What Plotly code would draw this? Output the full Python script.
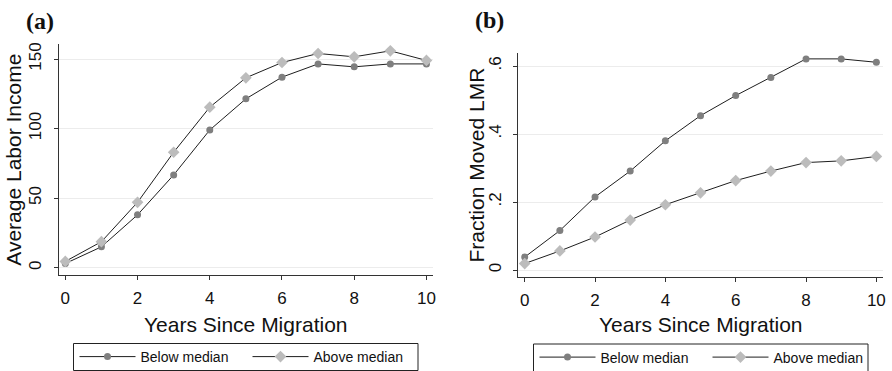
import plotly.graph_objects as go

years = [0, 1, 2, 3, 4, 5, 6, 7, 8, 9, 10]

# Panel (a): Average Labor Income
income_below = [3, 15, 38, 66.7, 99, 121.4, 137, 146.5, 144.4, 146.5, 146.5]
income_above = [4.5, 18.7, 47, 83, 115.4, 136.5, 147.5, 154, 151.6, 155.9, 149]

# Panel (b): Fraction Moved LMR
moved_below = [0.038, 0.116, 0.215, 0.291, 0.380, 0.454, 0.513, 0.566, 0.621, 0.621, 0.611]
moved_above = [0.019, 0.056, 0.097, 0.147, 0.192, 0.227, 0.263, 0.291, 0.316, 0.321, 0.334]

a_ticks = [0, 50, 100, 150]
a_ticktext = ["0", "50", "100", "150"]
b_ticks = [0, 0.2, 0.4, 0.6]
b_ticktext = ["0", ".2", ".4", ".6"]
x_ticks = [0, 2, 4, 6, 8, 10]

series_names = ["Below median", "Above median"]

W, H = 892, 371
FONT = "Liberation Sans, Arial, Helvetica, sans-serif"
DARK = "#7f7f7f"
LIGHT = "#bcbcbc"
LINE = "#1e1e1e"


def px(x):
    return x / W


def py(y):
    return 1 - y / H


fig = go.Figure()

sty = [
    dict(symbol="circle", size=7, color=DARK),
    dict(symbol="diamond", size=9, color=LIGHT),
]

for i, (vals, nm) in enumerate(zip([income_below, income_above], series_names)):
    fig.add_trace(go.Scatter(
        x=years, y=vals, name=nm, mode="lines+markers",
        line=dict(color=LINE, width=1), marker=sty[i],
        xaxis="x", yaxis="y", legend="legend",
    ))

for i, (vals, nm) in enumerate(zip([moved_below, moved_above], series_names)):
    fig.add_trace(go.Scatter(
        x=years, y=vals, name=nm, mode="lines+markers",
        line=dict(color=LINE, width=1), marker=sty[i],
        xaxis="x2", yaxis="y2", legend="legend2",
    ))

common_x = dict(
    tickvals=x_ticks, showgrid=False, zeroline=False,
    showline=True, linecolor="#333333", linewidth=1,
    ticks="outside", ticklen=4, tickcolor="#333333",
    tickfont=dict(family=FONT, size=17, color="#111111"),
    ticklabelstandoff=4,
)
common_y = dict(
    showgrid=True, gridcolor="#ececec", gridwidth=1, zeroline=False,
    showline=True, linecolor="#333333", linewidth=1,
    ticks="outside", ticklen=4, tickcolor="#333333",
    tickangle=-90, ticklabelstandoff=6,
    tickfont=dict(family=FONT, size=17, color="#111111"),
)

leg_common = dict(
    orientation="h", xanchor="left", yanchor="middle",
    borderwidth=0, bgcolor="rgba(0,0,0,0)",
    font=dict(family=FONT, size=14, color="#111111"),
    itemwidth=56, traceorder="normal", entrywidth=102, entrywidthmode="pixels",
)

fig.update_layout(
    width=W, height=H,
    margin=dict(l=0, r=0, t=0, b=0, autoexpand=False),
    paper_bgcolor="white", plot_bgcolor="white",
    font=dict(family=FONT, color="#111111"),
    xaxis=dict(domain=[px(59), px(433.3)], range=[-0.175, 10.19], anchor="y", **common_x),
    yaxis=dict(domain=[py(275), py(44.3)], range=[-5.25, 160.6], anchor="x",
               tickvals=a_ticks, ticktext=a_ticktext, **common_y),
    xaxis2=dict(domain=[px(518.3), px(882.7)], range=[-0.182, 10.18], anchor="y2", **common_x),
    yaxis2=dict(domain=[py(276.7), py(53.3)], range=[-0.0197, 0.6374], anchor="x2",
                tickvals=b_ticks, ticktext=b_ticktext, **common_y),
    legend=dict(x=px(74.5), y=py(357), **leg_common),
    legend2=dict(x=px(534.5), y=py(357.5), **leg_common),
    showlegend=True,
    shapes=[
        dict(type="rect", xref="paper", yref="paper", x0=px(73.5), x1=px(418), y0=py(343.5), y1=py(370.5),
             line=dict(color="#222222", width=1), fillcolor="rgba(0,0,0,0)", layer="below"),
        dict(type="rect", xref="paper", yref="paper", x0=px(533.5), x1=px(868), y0=py(344), y1=py(371.5),
             line=dict(color="#222222", width=1), fillcolor="rgba(0,0,0,0)", layer="below"),
    ],
)

ann = []
ann.append(dict(text="<b>(a)</b>", x=px(40), y=py(21), xref="paper", yref="paper",
                showarrow=False, xanchor="center", yanchor="middle",
                font=dict(family="Liberation Serif, Times New Roman, serif", size=24, color="#111111")))
ann.append(dict(text="<b>(b)</b>", x=px(489), y=py(20), xref="paper", yref="paper",
                showarrow=False, xanchor="center", yanchor="middle",
                font=dict(family="Liberation Serif, Times New Roman, serif", size=24, color="#111111")))
ann.append(dict(text="Average Labor Income", x=px(14), y=py(159.7), xref="paper", yref="paper",
                showarrow=False, xanchor="center", yanchor="middle", textangle=-90,
                font=dict(family=FONT, size=21, color="#111111")))
ann.append(dict(text="Fraction Moved LMR", x=px(475.5), y=py(165), xref="paper", yref="paper",
                showarrow=False, xanchor="center", yanchor="middle", textangle=-90,
                font=dict(family=FONT, size=21, color="#111111")))
ann.append(dict(text="Years Since Migration", x=px(246), y=py(324), xref="paper", yref="paper",
                showarrow=False, xanchor="center", yanchor="middle",
                font=dict(family=FONT, size=21, color="#111111")))
ann.append(dict(text="Years Since Migration", x=px(700.5), y=py(324), xref="paper", yref="paper",
                showarrow=False, xanchor="center", yanchor="middle",
                font=dict(family=FONT, size=21, color="#111111")))
fig.update_layout(annotations=ann)

fig.write_html(
    "out.html",
    config={"displayModeBar": False},
    post_script="document.body.style.margin='0px';document.body.style.overflow='hidden';",
)
